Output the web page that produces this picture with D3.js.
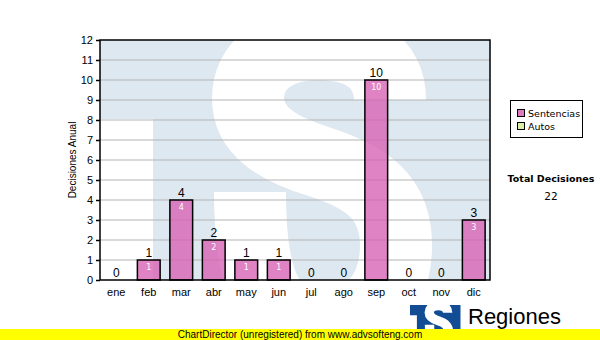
<!DOCTYPE html>
<html>
<head>
<meta charset="utf-8">
<script src="https://cdn.jsdelivr.net/npm/d3@7"></script>
<style>
  body { margin: 0; background: #fff; }
  svg { display: block; }
</style>
</head>
<body>
<div id="chart"></div>
<script>
// datos
const months = ["ene", "feb", "mar", "abr", "may", "jun", "jul", "ago", "sep", "oct", "nov", "dic"];
const sentencias = [0, 1, 4, 2, 1, 1, 0, 0, 10, 0, 0, 3];
const autos = [0, 0, 0, 0, 0, 0, 0, 0, 0, 0, 0, 0];
const yTicks = [0, 1, 2, 3, 4, 5, 6, 7, 8, 9, 10, 11, 12];
const legendNames = ["Sentencias", "Autos"];
const totalDecisiones = 22;

const W = 600, H = 340;
const plot = { left: 100, right: 490, top: 40, bottom: 280 };

const svg = d3.select("#chart").append("svg")
    .attr("width", W)
    .attr("height", H);

svg.append("rect").attr("width", W).attr("height", H).attr("fill", "#fff");

const x = d3.scaleBand()
    .domain(months)
    .range([plot.left, plot.right])
    .paddingInner(0.3)
    .paddingOuter(0.15);

const y = d3.scaleLinear()
    .domain([0, 12])
    .range([plot.bottom, plot.top]);

// forma del logo "S" (trazo grueso)
const sPath = "M 390 100 C 390 62, 360 44, 318 44 C 273 44, 248 68, 248 98 " +
    "C 248 130, 275 148, 320 162 C 370 178, 396 200, 396 245 " +
    "C 396 300, 362 326, 320 326 C 278 326, 250 300, 250 192";

function drawLogo(g, clipId) {
    const inner = g.append("g").attr("clip-path", `url(#${clipId})`);
    inner.append("rect")
        .attr("x", plot.left).attr("y", plot.top)
        .attr("width", plot.right - plot.left).attr("height", 300)
        .attr("fill", g.attr("data-blue"));
    inner.append("rect")
        .attr("x", plot.left).attr("y", 119)
        .attr("width", 53).attr("height", 230)
        .attr("fill", "#fff");
    inner.append("path")
        .attr("d", sPath)
        .attr("fill", "none")
        .attr("stroke", "#fff")
        .attr("stroke-width", 72);
}

// marca de agua dentro del area
svg.append("clipPath").attr("id", "clip")
    .append("rect")
    .attr("x", plot.left).attr("y", plot.top)
    .attr("width", plot.right - plot.left).attr("height", plot.bottom - plot.top);
drawLogo(svg.append("g").attr("data-blue", "#dee8f1"), "clip");

// lineas de cuadricula
svg.append("g")
    .selectAll("line")
    .data(yTicks.filter(d => d > 0 && d < 12))
    .join("line")
    .attr("x1", plot.left).attr("x2", plot.right)
    .attr("y1", d => y(d)).attr("y2", d => y(d))
    .attr("stroke", "#b4b4b4")
    .attr("stroke-width", 1);

// barras
svg.append("g")
    .selectAll("rect")
    .data(sentencias)
    .join("rect")
    .attr("x", (d, i) => x(months[i]))
    .attr("y", d => y(d))
    .attr("width", x.bandwidth())
    .attr("height", d => y(0) - y(d))
    .attr("fill", "#d760b4")
    .attr("fill-opacity", 0.78)
    .attr("stroke", d => d > 0 ? "#000" : "none")
    .attr("stroke-width", 1.5);

// etiquetas sobre las barras
svg.append("g")
    .selectAll("text")
    .data(sentencias)
    .join("text")
    .attr("x", (d, i) => x(months[i]) + x.bandwidth() / 2)
    .attr("y", d => y(d) - 3)
    .attr("text-anchor", "middle")
    .attr("font-family", "Liberation Sans, Arial, sans-serif")
    .attr("font-size", 12)
    .attr("fill", "#000")
    .text(d => d);

// etiquetas dentro de las barras
svg.append("g")
    .selectAll("text")
    .data(sentencias.map((v, i) => ({ v, m: months[i] })).filter(d => d.v > 0))
    .join("text")
    .attr("x", d => x(d.m) + x.bandwidth() / 2)
    .attr("y", d => y(d.v) + 10)
    .attr("text-anchor", "middle")
    .attr("font-family", "DejaVu Sans, sans-serif")
    .attr("font-size", 8)
    .attr("fill", "#fff")
    .text(d => d.v);

// borde del area
svg.append("rect")
    .attr("x", plot.left).attr("y", plot.top)
    .attr("width", plot.right - plot.left).attr("height", plot.bottom - plot.top)
    .attr("fill", "none")
    .attr("stroke", "#000")
    .attr("stroke-width", 1.5);

// eje Y
const yAxis = svg.append("g")
    .attr("transform", `translate(${plot.left},0)`)
    .call(d3.axisLeft(y).tickValues(yTicks).tickSize(4).tickPadding(3));
yAxis.select(".domain").remove();
yAxis.selectAll("line").attr("stroke", "#000").attr("stroke-width", 1.5);
yAxis.selectAll("text")
    .attr("font-family", "Liberation Sans, Arial, sans-serif")
    .attr("font-size", 11)
    .attr("fill", "#000");

// eje X
const xAxis = svg.append("g")
    .attr("transform", `translate(0,${plot.bottom})`)
    .call(d3.axisBottom(x).tickSize(0).tickPadding(8));
xAxis.select(".domain").remove();
xAxis.selectAll("text")
    .attr("font-family", "Liberation Sans, Arial, sans-serif")
    .attr("font-size", 11)
    .attr("fill", "#000");

// titulo eje Y
svg.append("text")
    .attr("transform", `translate(76,${(plot.top + plot.bottom) / 2}) rotate(-90)`)
    .attr("text-anchor", "middle")
    .attr("font-family", "Liberation Sans, Arial, sans-serif")
    .attr("font-size", 10)
    .attr("fill", "#000")
    .text("Decisiones Anual");

// leyenda
const legendColors = ["#dc79c0", "#dcefa4"];
svg.append("rect")
    .attr("x", 510.5).attr("y", 100.5)
    .attr("width", 72).attr("height", 37)
    .attr("fill", "#fff")
    .attr("stroke", "#000");
const lg = svg.append("g")
    .selectAll("g")
    .data(legendNames)
    .join("g")
    .attr("transform", (d, i) => `translate(517,${109 + i * 13})`);
lg.append("rect")
    .attr("x", 0.5).attr("y", 0.5)
    .attr("width", 7).attr("height", 7)
    .attr("fill", (d, i) => legendColors[i])
    .attr("stroke", "#000");
lg.append("text")
    .attr("x", 11)
    .attr("y", 8)
    .attr("font-family", "DejaVu Sans, sans-serif")
    .attr("font-size", 9.5)
    .attr("fill", "#000")
    .text(d => d);

// total
svg.append("text")
    .attr("x", 551).attr("y", 182)
    .attr("text-anchor", "middle")
    .attr("font-family", "DejaVu Sans, sans-serif")
    .attr("font-weight", "bold")
    .attr("font-size", 9.5)
    .attr("fill", "#000")
    .text("Total Decisiones");
svg.append("text")
    .attr("x", 551).attr("y", 200)
    .attr("text-anchor", "middle")
    .attr("font-family", "DejaVu Sans, sans-serif")
    .attr("font-size", 10.5)
    .attr("fill", "#000")
    .text(totalDecisiones);

// logo inferior (misma forma, escalada)
svg.append("clipPath").attr("id", "clipLogo")
    .append("rect")
    .attr("x", plot.left).attr("y", plot.top)
    .attr("width", plot.right - plot.left).attr("height", 300);
drawLogo(svg.append("g")
    .attr("data-blue", "#124c95")
    .attr("transform", "translate(397,299.8) scale(0.13)"), "clipLogo");

svg.append("text")
    .attr("x", 468).attr("y", 324)
    .attr("font-family", "Liberation Sans, Arial, sans-serif")
    .attr("font-size", 22)
    .attr("fill", "#000")
    .text("Regiones");
svg.append("text")
    .attr("x", 467).attr("y", 337)
    .attr("font-family", "Liberation Sans, Arial, sans-serif")
    .attr("font-size", 10)
    .attr("fill", "#000")
    .text("Tribunal Supremo de Justicia");

// franja amarilla
svg.append("rect")
    .attr("x", 0).attr("y", 329)
    .attr("width", W).attr("height", 11)
    .attr("fill", "#ffff00");
svg.append("text")
    .attr("x", 300).attr("y", 338)
    .attr("text-anchor", "middle")
    .attr("font-family", "Liberation Sans, Arial, sans-serif")
    .attr("font-size", 10)
    .attr("fill", "#000")
    .text("ChartDirector (unregistered) from www.advsofteng.com");
</script>
</body>
</html>
